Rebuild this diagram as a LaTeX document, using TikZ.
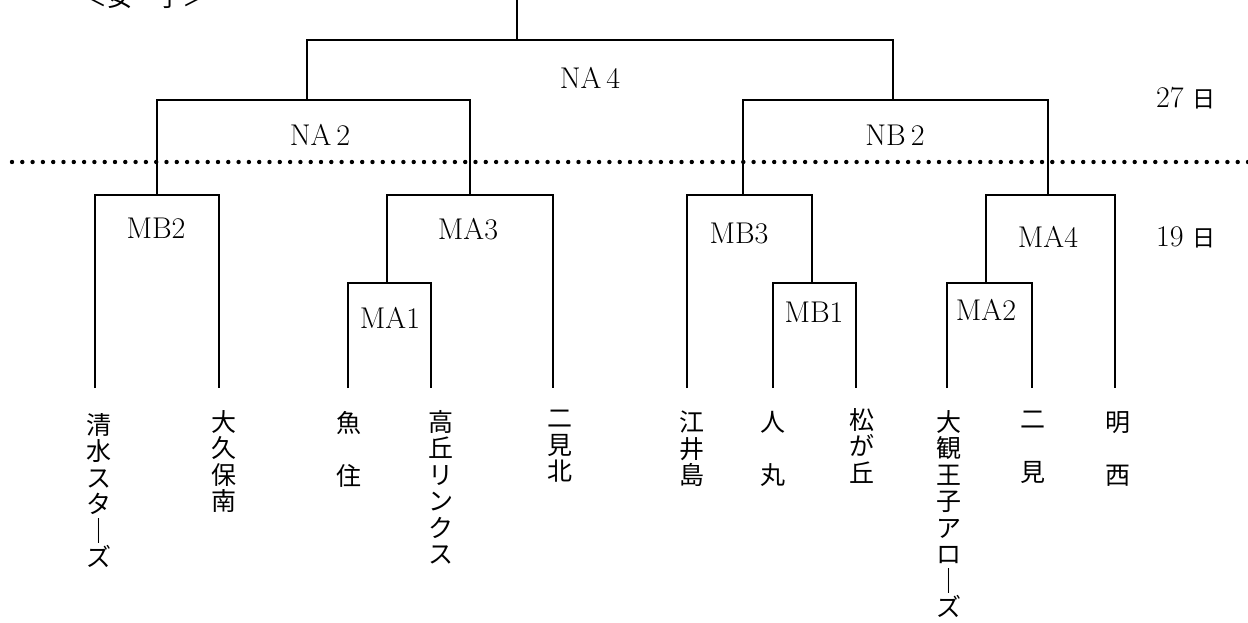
\documentclass[tikz,border=0pt]{standalone}
\usepackage{fontspec}
\newfontfamily\jfont{Noto Sans CJK JP}

\tikzset{
  bracket/.style={line width=1.7pt},
  matchname/.style={inner sep=0pt,font=\fontsize{30}{32}\selectfont},
  team/.style={anchor=north,inner sep=0pt,align=center,font=\jfont\fontsize{25}{26.5}\selectfont},
  daytext/.style={inner sep=0pt,font=\fontsize{30}{32}\selectfont},
}

\begin{document}
\begin{tikzpicture}[x=1pt,y=-1pt]
\useasboundingbox (0,0) rectangle (1248,622);
\def\tipy{388}
% team ends
\coordinate (t1) at (95,\tipy);
\coordinate (t2) at (219,\tipy);
\coordinate (t3) at (348,\tipy);
\coordinate (t4) at (431,\tipy);
\coordinate (t5) at (553,\tipy);
\coordinate (t6) at (687,\tipy);
\coordinate (t7) at (773,\tipy);
\coordinate (t8) at (856,\tipy);
\coordinate (t9) at (947,\tipy);
\coordinate (t10) at (1032,\tipy);
\coordinate (t11) at (1115,\tipy);

% match points
\coordinate (ma1) at (387,283);
\coordinate (ma3) at (470,195);
\coordinate (mb2) at (157,195);
\coordinate (na2) at (307,100);
\coordinate (mb1) at (812,283);
\coordinate (mb3) at (743,195);
\coordinate (ma2) at (986,283);
\coordinate (ma4) at (1048,195);
\coordinate (nb2) at (893,100);
\coordinate (na4) at (517,40);
\coordinate (top) at (517,-5);

\draw[bracket] (t1) |- (mb2) -| (t2);
\draw[bracket] (t3) |- (ma1) -| (t4);
\draw[bracket] (ma1) |- (ma3) -| (t5);
\draw[bracket] (mb2) |- (na2) -| (ma3);
\draw[bracket] (t7) |- (mb1) -| (t8);
\draw[bracket] (t6) |- (mb3) -| (mb1);
\draw[bracket] (t9) |- (ma2) -| (t10);
\draw[bracket] (ma2) |- (ma4) -| (t11);
\draw[bracket] (mb3) |- (nb2) -| (ma4);
\draw[bracket] (na2) |- (na4) -| (nb2);
\draw[bracket] (na4) -- (top);

% day split
\coordinate (dl) at (12,162);
\coordinate (dr) at (1250,162);
\draw[line width=4.4pt,line cap=round,dash pattern=on 0pt off 10.3pt] (dl) -- (dr);

\node[matchname] (lNA4) at (590,78) {NA\,4};
\node[matchname] (lNA2) at (320,135) {NA\,2};
\node[matchname] (lNB2) at (895,135) {NB\,2};
\node[matchname] (lMB2) at (156,228) {MB2};
\node[matchname] (lMA3) at (468,229) {MA3};
\node[matchname] (lMA1) at (390,318) {MA1};
\node[matchname] (lMB3) at (739,233) {MB3};
\node[matchname] (lMB1) at (814,312) {MB1};
\node[matchname] (lMA4) at (1048,237) {MA4};
\node[matchname] (lMA2) at (986,310) {MA2};

\node[daytext] (d27) at (1186,98) {27 {\jfont\fontsize{23}{26}\selectfont 日}};
\node[daytext] (d19) at (1186,237) {19 {\jfont\fontsize{23}{26}\selectfont 日}};

\node[team,anchor=center] (title) at (145,-3) {＜女　子＞};

% teams
\node[team] (s1) at (99,413) {清\\水\\ス\\タ\\｜\\ズ};
\node[team] (s2) at (224,410) {大\\久\\保\\南};
\node[team] (s3) at (349,411) {魚\\\\住};
\node[team] (s4) at (441,410) {高\\丘\\リ\\ン\\ク\\ス};
\node[team] (s5) at (560,410) {二\\見\\北};
\node[team] (s6) at (692,411) {江\\井\\島};
\node[team] (s7) at (773,411) {人\\\\丸};
\node[team] (s8) at (862,408) {松\\が\\丘};
\node[team] (s9) at (949,410) {大\\観\\王\\子\\ア\\ロ\\｜\\ズ};
\node[team] (s10) at (1033,411) {二\\\\見};
\node[team] (s11) at (1118,411) {明\\\\西};
\end{tikzpicture}
\end{document}
